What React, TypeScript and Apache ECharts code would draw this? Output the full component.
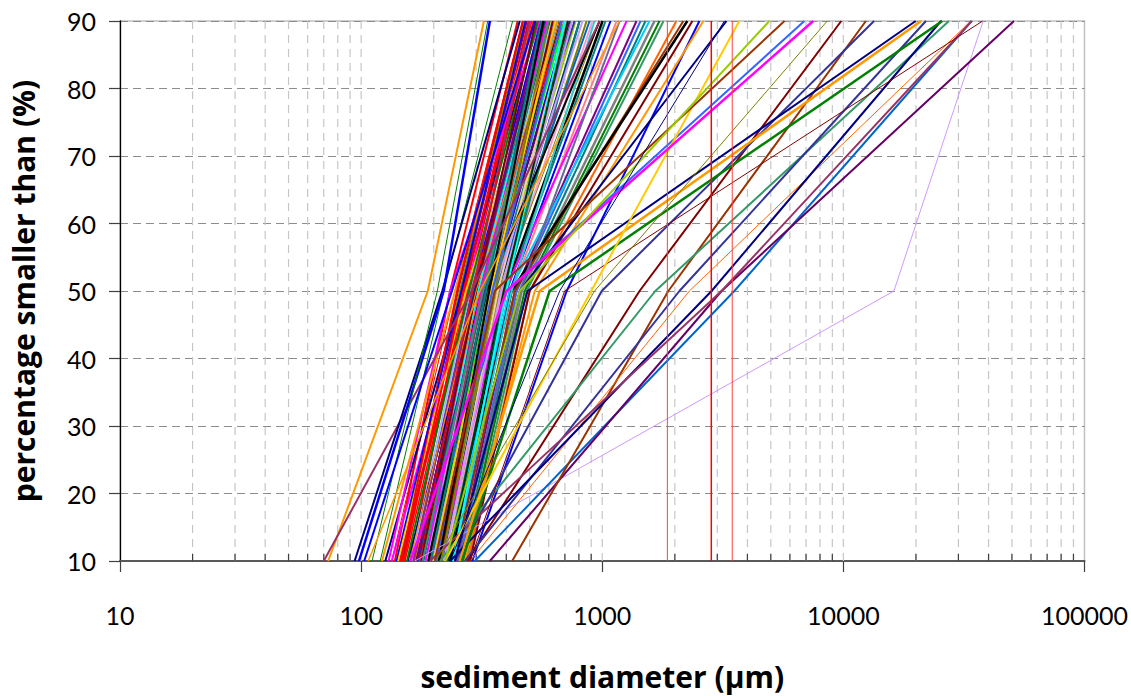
import React, { useEffect, useRef } from "react";
import * as echarts from "echarts";

// percentage levels at which every sample curve is given
const pct = [10, 50, 90];

// sediment diameters (µm) at 10 %, 50 % and 90 % for each sample
const d10 = [
  120, 138, 134, 145, 142, 148, 160, 134, 152, 162, 126, 165, 172, 175, 168, 179, 184, 156, 188, 193,
  197, 200, 145, 204, 208, 212, 219, 223, 227, 234, 238, 245, 283, 212, 252, 257, 262, 229, 269, 265,
  272, 277, 245, 234, 283, 289, 269, 223, 130, 142, 184, 160, 122, 172, 190, 147, 202, 212, 206, 186,
  223, 193, 175, 199, 167, 181, 227, 212, 197, 240, 252, 175, 190, 150, 155, 170, 185, 165, 195, 140,
  200, 178, 240, 215, 160, 205, 180, 210, 175, 220, 230,
  73, 70, 94, 98, 111, 103, 107, 167, 296, 342, 423, 276, 212, 245, 269, 283, 234, 193, 245, 257,
  262, 283, 223, 204, 160, 202, 223, 234,
  1862, 2833, 3460,
];
const d50 = [
  220, 234, 245, 252, 257, 262, 269, 274, 277, 283, 262, 289, 293, 299, 305, 308, 311, 316, 323, 329,
  335, 342, 283, 348, 355, 362, 369, 376, 383, 394, 401, 413, 421, 394, 434, 442, 455, 413, 464, 477,
  486, 500, 434, 421, 500, 712, 525, 455, 234, 272, 305, 283, 245, 326, 342, 250, 335, 358, 376, 318,
  369, 320, 296, 342, 311, 316, 394, 348, 355, 421, 455, 401, 332, 265, 280, 300, 315, 290, 330, 260,
  345, 300, 400, 360, 300, 350, 320, 340, 290, 380, 390,
  189, 287, 217, 220, 207, 238, 311, 16200, 3530, 3125, 1880, 1428, 1660, 995, 2090, 2299, 2840, 3125, 490, 550,
  605, 698, 900, 929, 401, 358, 455, 666,
  1862, 2833, 3460,
];
const d90 = [
  425, 446, 468, 470, 477, 486, 495, 505, 515, 530, 545, 556, 566, 577, 588, 599, 610, 623, 635, 648,
  666, 679, 698, 718, 746, 775, 805, 861, 911, 1003, 1032, 1082, 1147, 1262, 1387, 1442, 1511, 1570, 1647, 1727,
  1795, 2030, 2170, 2254, 2365, 2529, 2628, 3275, 550, 617, 594, 577, 515, 768, 732, 468, 654, 886, 975, 620,
  718, 641, 577, 698, 666, 605, 805, 623, 829, 929, 1180, 6890, 975, 520, 540, 560, 590, 500, 560, 480,
  640, 530, 700, 600, 650, 680, 600, 570, 510, 750, 720,
  323, 975, 455, 342, 335, 525, 1180, 38000, 34000, 51000, 12400, 9800, 27400, 13400, 22000, 33800, 25400, 34100, 19950, 21000,
  25700, 37800, 3703, 8570, 7500, 5700, 4930, 3210,
  1862, 2833, 3460,
];
const lineColors = [
  "#008000", "#FF0000", "#FF0000", "#993300", "#808000", "#800080", "#FF0000", "#FF00FF", "#FF0000", "#99CCFF",
  "#000080", "#0000FF", "#800080", "#008080", "#800000", "#FF00FF", "#993366", "#000080", "#969696", "#33CCCC",
  "#003300", "#800080", "#FF0000", "#0000FF", "#008080", "#99CC00", "#003366", "#808000", "#FF99CC", "#000000",
  "#008080", "#0000FF", "#FF8080", "#FF00FF", "#800080", "#3366FF", "#008080", "#00CCFF", "#808080", "#008000",
  "#339966", "#FF6600", "#993300", "#000000", "#800000", "#0000FF", "#FF9900", "#000080", "#FF00FF", "#FFCC00",
  "#00FFFF", "#CC99FF", "#FF9900", "#333399", "#660066", "#FF0000", "#969696", "#0066CC", "#808000", "#99CCFF",
  "#FFCC99", "#993366", "#003366", "#00FF00", "#FF6600", "#000080", "#008080", "#800000", "#CC99FF", "#33CCCC",
  "#666699", "#3366FF", "#000000", "#FF0000", "#008000", "#800080", "#FF00FF", "#993366", "#008080", "#0000FF",
  "#FFCC00", "#800000", "#00FFFF", "#808000", "#FF9900", "#3366FF", "#339966", "#000000", "#FF0000", "#CC99FF",
  "#003300",
  "#FF9900", "#993366", "#000080", "#0000FF", "#008000", "#0000FF", "#FF9900", "#CC99FF", "#0066CC", "#660066",
  "#993300", "#800000", "#339966", "#333399", "#333399", "#FF6600", "#000080", "#993366", "#000080", "#FF9900",
  "#008000", "#800000", "#FFCC00", "#808000", "#FF00FF", "#993300", "#99CC00", "#000080",
  "#FF4040", "#FF0000", "#FF4040",
];
const lineWidths = [
  1, 2, 1, 2, 2, 2, 2, 2, 1.5, 2, 2, 2, 2, 2, 2, 2, 2, 2, 2, 2,
  2, 2, 2, 2, 2, 2, 2, 2, 2, 2.5, 2, 2, 2, 2, 2, 2, 2, 2, 2.5, 2,
  2, 2, 2, 2.5, 2, 2, 2, 2, 2, 2, 2, 1, 2, 2, 2, 2, 1, 2, 1, 2,
  2, 2, 2, 2, 1, 1.5, 2, 2, 2, 2, 2, 2, 2, 2, 2, 2, 2, 2, 2, 1.5,
  2, 2, 2, 2, 1, 2, 2, 2, 1, 2, 2,
  2, 2, 2, 2.5, 1, 2, 1.5, 1, 2, 2, 2, 2, 2, 2, 2, 1, 2, 2, 2, 2.5,
  2.5, 1, 2, 1, 2.5, 2, 2, 1,
  1, 1.5, 1,
];

// gridline diameters (µm) inside the plot: decades and their sub-divisions
const gridDiameters = [
  20, 30, 40, 50, 60, 70, 80, 90, 100,
  200, 300, 400, 500, 600, 700, 800, 900, 1000,
  2000, 3000, 4000, 5000, 6000, 7000, 8000, 9000, 10000,
  20000, 30000, 40000, 50000, 60000, 70000, 80000, 90000,
];
const decades = [10, 100, 1000, 10000, 100000];

const FONT = "Lato, 'Open Sans', sans-serif";
const TITLE_FONT = "'Open Sans', 'Noto Sans', sans-serif";

export default function App() {
  const ref = useRef<HTMLDivElement>(null);
  useEffect(() => {
    if (!ref.current) return;
    const chart = echarts.init(ref.current, undefined, { renderer: "svg" });

    const sampleSeries = d10.map((_, i) => ({
      type: "line",
      data: pct.map((p, k) => [[d10, d50, d90][k][i], p]),
      symbol: "none",
      silent: true,
      clip: true,
      z: 3,
      lineStyle: { color: lineColors[i], width: lineWidths[i] },
    }));

    const gridSeries = {
      type: "custom",
      silent: true,
      z: 1,
      clip: false,
      data: gridDiameters.map((v) => [v, 10]),
      encode: { x: 0, y: 1 },
      renderItem: (params: any, api: any) => {
        const v = api.value(0);
        const p0 = api.coord([v, 10]);
        const p1 = api.coord([v, 90]);
        const isDecade = decades.indexOf(v) >= 0;
        const children: any[] = [
          {
            type: "line",
            shape: { x1: p0[0], y1: p0[1], x2: p1[0], y2: p1[1] },
            style: { stroke: "#c6c6c6", lineWidth: 1.2, lineDash: [8, 6] },
          },
        ];
        if (!isDecade) {
          children.push({
            type: "line",
            shape: { x1: p0[0], y1: p0[1], x2: p0[0], y2: p0[1] - 7 },
            style: { stroke: "#404040", lineWidth: 1.2 },
          });
        }
        return { type: "group", children };
      },
    };

    chart.setOption({
      animation: false,
      grid: {
        left: 120,
        right: 46,
        top: 21,
        bottom: 131,
        show: true,
        borderColor: "#c0c0c0",
        borderWidth: 1.5,
        backgroundColor: "transparent",
      },
      xAxis: {
        type: "log",
        logBase: 10,
        min: 10,
        max: 100000,
        name: "sediment diameter (µm)",
        nameLocation: "middle",
        nameGap: 100,
        nameTextStyle: { fontFamily: TITLE_FONT, fontSize: 30, fontWeight: "bold", color: "#000" },
        axisLine: { show: true, lineStyle: { color: "#595959", width: 2 } },
        axisTick: { show: true, inside: false, length: 11, lineStyle: { color: "#404040", width: 1.2 } },
        axisLabel: {
          margin: 41,
          fontFamily: FONT,
          fontSize: 25,
          color: "#000",
          formatter: (v: number) => String(Math.round(v)),
        },
        splitLine: { show: false },
        minorTick: { show: false },
      },
      yAxis: {
        type: "value",
        min: 10,
        max: 90,
        interval: 10,
        name: "percentage smaller than (%)",
        nameLocation: "middle",
        nameGap: 82,
        nameTextStyle: { fontFamily: TITLE_FONT, fontSize: 30, fontWeight: "bold", color: "#000" },
        axisLine: { show: true, lineStyle: { color: "#000", width: 1.3 } },
        axisTick: { show: true, inside: false, length: 11, lineStyle: { color: "#404040", width: 1.2 } },
        axisLabel: { margin: 24, fontFamily: FONT, fontSize: 25, color: "#000" },
        splitLine: { show: true, lineStyle: { color: "#8c8c8c", width: 1.2, type: [8, 5] } },
      },
      series: [gridSeries, ...sampleSeries],
    });
    return () => chart.dispose();
  }, []);
  return (
    <div
      ref={ref}
      style={{ position: "fixed", left: 0, top: 0, width: 1131, height: 696, background: "#fff" }}
    />
  );
}
